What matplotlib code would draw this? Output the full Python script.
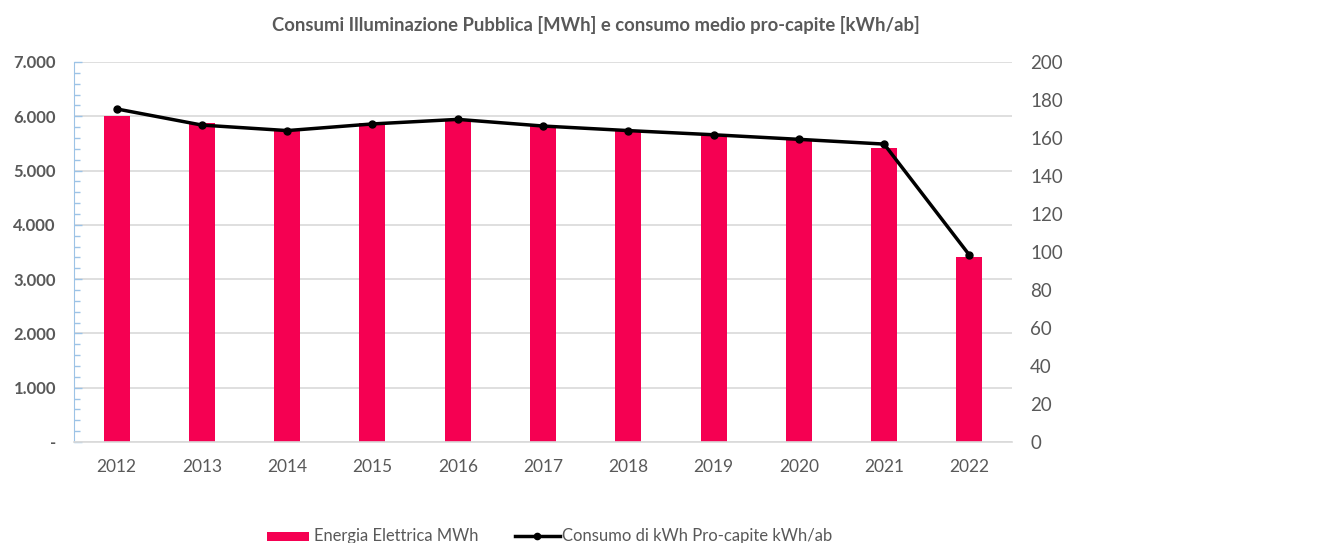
import matplotlib
matplotlib.use("Agg")
import matplotlib.pyplot as plt
from matplotlib.ticker import FixedLocator, MultipleLocator
from matplotlib.lines import Line2D
from matplotlib.patches import Rectangle

years = ["2012", "2013", "2014", "2015", "2016", "2017", "2018", "2019", "2020", "2021", "2022"]
energia_mwh = [6000, 5880, 5735, 5870, 5930, 5830, 5750, 5655, 5560, 5420, 3410]
procapite_kwh = [175.3, 166.8, 163.9, 167.4, 169.8, 166.3, 163.9, 161.7, 159.3, 156.8, 98.4]
left_ticks = [0, 1000, 2000, 3000, 4000, 5000, 6000, 7000]
left_labels = ["-", "1.000", "2.000", "3.000", "4.000", "5.000", "6.000", "7.000"]
right_ticks = [0, 20, 40, 60, 80, 100, 120, 140, 160, 180, 200]
legend_labels = ["Energia Elettrica MWh", "Consumo di kWh Pro-capite kWh/ab"]

plt.rcParams['font.family'] = ['Lato', 'DejaVu Sans']
gray = "#595959"
bar_color = "#F50052"
W, H = 1328, 543

fig = plt.figure(figsize=(W / 100, H / 100), dpi=100)
ax = fig.add_axes([74/W, 101/H, 938/W, 380/H])
x = list(range(len(years)))
ax.bar(x, energia_mwh, width=0.305, color=bar_color, zorder=2)
ax.set_xlim(-0.5, len(years) - 0.5)
ax.set_ylim(0, 7000)
ax.yaxis.set_major_locator(FixedLocator(left_ticks))
ax.set_yticklabels(left_labels, fontsize=12, fontweight='bold', color=gray)
ax.yaxis.set_minor_locator(MultipleLocator(200))
ax.tick_params(axis='y', which='major', direction='in', length=6, width=1, color="#9DC3E6", pad=13)
ax.tick_params(axis='y', which='minor', direction='in', length=4, width=1, color="#9DC3E6")
ax.set_xticks(x)
ax.set_xticklabels(years, fontsize=12.5, color=gray)
ax.tick_params(axis='x', length=0, pad=12)
ax.grid(axis='y', color="#D9D9D9", linewidth=1.2, zorder=0)
ax.set_axisbelow(True)
for s in ['top', 'right']:
    ax.spines[s].set_visible(False)
ax.spines['left'].set_color("#9DC3E6")
ax.spines['bottom'].set_color("#D9D9D9")
ax.spines['bottom'].set_linewidth(1.2)

ax2 = ax.twinx()
ax2.plot(x, procapite_kwh, color='black', linewidth=2.5, marker='o', markersize=5, zorder=3)
ax2.set_ylim(0, 200)
ax2.set_yticks(right_ticks)
ax2.set_yticklabels([str(t) for t in right_ticks], fontsize=13.5, color=gray)
ax2.tick_params(axis='y', length=0, pad=13)
for s in ['top', 'right', 'left', 'bottom']:
    ax2.spines[s].set_visible(False)

fig.text(596/W, 1 - 25/H, "Consumi Illuminazione Pubblica [MWh] e consumo medio pro-capite [kWh/ab]",
         ha='center', va='center', fontsize=13.3, fontweight='bold', color=gray)

# legend drawn in figure pixels
ly = 1 - 536/H
fig.patches.append(Rectangle((267/W, 1 - 541/H), 42/W, 9/H, transform=fig.transFigure,
                             facecolor=bar_color, edgecolor='none'))
fig.text(314/W, ly, legend_labels[0], ha='left', va='center', fontsize=11.9, color=gray)
fig.lines.append(Line2D([515/W, 560/W], [ly, ly], transform=fig.transFigure, color='black',
                        linewidth=2.5))
fig.lines.append(Line2D([537/W], [ly], transform=fig.transFigure, color='black',
                        marker='o', markersize=4.5, linestyle='none'))
fig.text(562/W, ly, legend_labels[1], ha='left', va='center', fontsize=12, color=gray)

fig.savefig("out.png", dpi=100)
